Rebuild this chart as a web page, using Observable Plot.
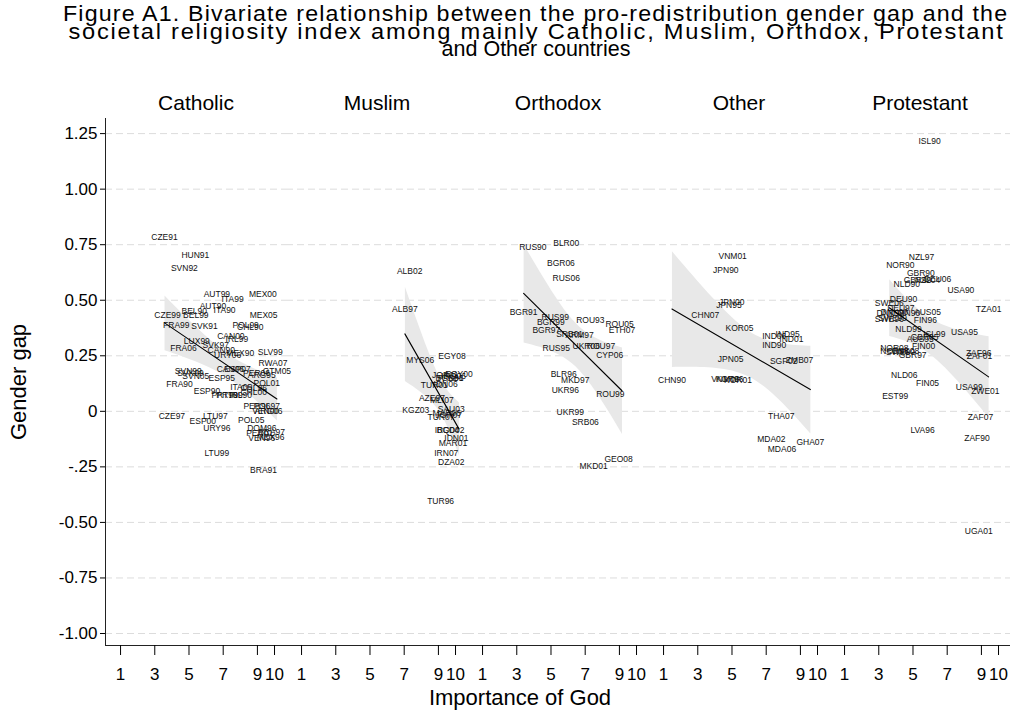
<!DOCTYPE html>
<html>
<head>
<meta charset="utf-8">
<script src="https://cdn.jsdelivr.net/npm/d3@7"></script>
<script src="https://cdn.jsdelivr.net/npm/@observablehq/plot@0.6"></script>
<style>
  body { margin: 0; background: white; font-family: "Liberation Sans", Arial, sans-serif; }
  #title { width: 1000px; margin-left: 36px; height: 54px; padding-top: 6px; text-align: center;
           font-size: 21.5px; line-height: 17.5px; white-space: nowrap; color: #000; }
  #title span { display: inline-block; transform-origin: 50% 50%; }
  #title .l1 { transform: scaleX(1.08); letter-spacing: 1.07px; }
  #title .l2 { transform: scaleX(1.1); letter-spacing: 1.6px; }
  #chart svg { display: block; }
</style>
</head>
<body>
<div id="title"><span class="l1">Figure A1. Bivariate relationship between the pro-redistribution gender gap and the</span><br><span class="l2">societal religiosity index among mainly Catholic, Muslim, Orthdox, Protestant</span><br><span class="l3">and Other countries</span></div>
<div id="chart"></div>
<script>
// ---- data: [country-wave label, importance of God (x), gender gap (y)] ----
const religions = ["Catholic", "Muslim", "Orthodox", "Other", "Protestant"];

const catholic = [
  ["CZE91",3.57,0.782],["HUN91",5.37,0.704],["SVN92",4.73,0.643],["AUT99",6.63,0.526],
  ["ITA99",7.55,0.506],["MEX00",9.32,0.529],["AUT90",6.40,0.472],["ITA90",7.08,0.457],
  ["BEL90",5.31,0.452],["BEL99",5.40,0.434],["CZE99",3.75,0.434],["MEX05",9.36,0.431],
  ["FRA99",4.26,0.389],["SVK91",5.91,0.382],["POL99",8.31,0.389],["CHL90",8.58,0.378],
  ["CAN00",7.45,0.338],["IRL99",7.80,0.326],["LUX99",5.46,0.314],["SVK97",6.57,0.297],
  ["FRA06",4.68,0.286],["CAN90",6.89,0.274],["URY06",7.26,0.254],["MEX90",8.00,0.261],
  ["SLV99",9.75,0.266],["RWA07",9.91,0.218],["SVN99",4.96,0.180],["SVK99",5.09,0.170],
  ["SVN05",5.40,0.157],["ESP95",6.92,0.151],["CAN06",7.42,0.188],["ESP07",7.84,0.188],
  ["GTM05",10.14,0.179],["PER06",8.95,0.171],["ARG95",9.25,0.161],["POL01",9.55,0.128],
  ["FRA90",4.45,0.124],["ITA05",8.05,0.108],["CHL96",8.78,0.103],["CHL00",8.78,0.086],
  ["ESP90",6.05,0.089],["PRT90",7.08,0.071],["PRT99",7.37,0.071],["IRL90",8.02,0.071],
  ["PER96",8.97,0.022],["POL97",9.54,0.022],["VEN00",9.48,0.000],["ARG06",9.65,0.000],
  ["CZE97",4.00,-0.023],["LTU97",6.54,-0.023],["ESP00",5.81,-0.045],["POL05",8.64,-0.038],
  ["URY96",6.63,-0.076],["DOM96",9.26,-0.076],["PER01",9.13,-0.099],["BRA97",9.83,-0.095],
  ["VEN96",9.25,-0.122],["MEX96",9.77,-0.118],["LTU99",6.63,-0.191],["BRA91",9.36,-0.266]
];

const muslim = [
  ["ALB02",7.32,0.629],["ALB97",7.04,0.459],["MYS06",7.94,0.229],["EGY08",9.79,0.247],
  ["JOR01",9.40,0.164],["BGD96",9.65,0.148],["PAK01",9.71,0.148],["IRQ06",9.89,0.157],
  ["EGY00",10.2,0.166],["TUR01",8.76,0.119],["IDN06",9.42,0.121],["AZE97",8.62,0.061],
  ["MLI07",9.20,0.049],["KGZ03",7.68,0.007],["SAU03",9.75,0.011],["MAR96",9.48,-0.010],
  ["TUR07",9.15,-0.027],["JOR07",9.60,-0.019],["IRQ04",9.50,-0.083],["BGD02",9.71,-0.083],
  ["IDN01",10.05,-0.121],["MAR01",9.85,-0.144],["IRN07",9.46,-0.189],["DZA02",9.75,-0.230],
  ["TUR96",9.13,-0.406]
];

const orthodox = [
  ["RUS90",3.94,0.739],["BLR00",5.89,0.758],["BGR06",5.58,0.667],["RUS06",5.89,0.601],
  ["BGR91",3.40,0.448],["RUS99",5.25,0.423],["BGR99",4.99,0.401],["ROU93",7.30,0.412],
  ["ROU05",9.01,0.394],["ETH07",9.15,0.367],["BGR97",4.73,0.367],["SRB01",6.09,0.349],
  ["ARM97",6.67,0.341],["RUS95",5.31,0.286],["UKR06",7.06,0.293],["ROU97",7.92,0.293],
  ["CYP06",8.43,0.251],["BLR96",5.74,0.169],["MKD97",6.42,0.139],["UKR96",5.84,0.097],
  ["ROU99",8.47,0.076],["UKR99",6.13,-0.004],["SRB06",7.01,-0.049],["GEO08",8.95,-0.214],
  ["MKD01",7.49,-0.248]
];

const other = [
  ["VNM01",5.04,0.697],["JPN90",4.64,0.637],["JPN00",4.99,0.491],["JPN95",4.82,0.476],
  ["CHN07",3.44,0.431],["KOR05",5.44,0.376],["IND06",7.47,0.337],["IND95",8.25,0.346],
  ["IND01",8.47,0.323],["IND90",7.47,0.296],["JPN05",4.92,0.233],["SGP02",8.02,0.224],
  ["ZMB07",8.95,0.229],["CHN90",1.49,0.139],["VNM06",4.61,0.146],["KOR96",4.86,0.143],
  ["KOR01",5.35,0.139],["THA07",7.88,-0.023],["MDA02",7.30,-0.128],["MDA06",7.92,-0.169],
  ["GHA07",9.58,-0.139]
];

const protestant = [
  ["ISL90",5.97,1.214],["NZL97",5.50,0.694],["NOR90",4.26,0.659],["GBR90",5.46,0.622],
  ["NLD90",4.64,0.574],["GBR99",5.27,0.592],["NZL04",5.85,0.589],["DEU06",6.44,0.593],
  ["USA90",7.80,0.544],["DEU90",4.45,0.506],["SWE06",3.61,0.488],["DEU97",4.29,0.466],
  ["DNK99",3.67,0.443],["DNK90",3.92,0.445],["FIN90",4.74,0.440],["AUS05",5.85,0.446],
  ["SWE96",3.61,0.416],["SWE99",3.81,0.418],["FIN96",5.72,0.409],["TZA01",9.42,0.461],
  ["NLD99",4.74,0.371],["ISL99",6.25,0.349],["USA95",8.01,0.356],["AUS95",5.43,0.323],
  ["GBR05",5.68,0.332],["FIN00",5.62,0.292],["NOR08",3.91,0.286],["NOR96",3.92,0.269],
  ["SWE90",4.27,0.266],["DNK08",4.57,0.269],["GBR97",4.98,0.251],["ZAF96",8.84,0.261],
  ["ZAF01",8.89,0.247],["NLD06",4.49,0.161],["FIN05",5.85,0.128],["USA99",8.29,0.108],
  ["ZWE01",9.23,0.090],["EST99",3.96,0.067],["ZAF07",8.94,-0.027],["LVA96",5.56,-0.083],
  ["ZAF90",8.74,-0.121],["UGA01",8.84,-0.541]
];

const xTicks = [1, 3, 5, 7, 9, 10];
const yTicks = [1.25, 1.00, 0.75, 0.50, 0.25, 0, -0.25, -0.50, -0.75, -1.00];
const yTickLabels = ["1.25", "1.00", "0.75", "0.50", "0.25", "0", "-.25", "-0.50", "-0.75", "-1.00"];

const yTitle = "Gender gap";
const xTitle = "Importance of God";

// ---- build table ----
const groups = {Catholic: catholic, Muslim: muslim, Orthodox: orthodox, Other: other, Protestant: protestant};
const rows = [];
for (const r of religions) for (const [label, x, y] of groups[r]) rows.push({religion: r, label, x, y});

const xDomain = [0.12, 10.7];
const yDomain = [-1.054, 1.318];
const yLabelMap = new Map(yTicks.map((t, i) => [t, yTickLabels[i]]));
const font = "'Liberation Sans', Arial, sans-serif";

const chart = Plot.plot({
  width: 1016,
  height: 652,
  marginTop: 58,
  marginBottom: 67,
  marginLeft: 105,
  marginRight: 6,
  style: {fontFamily: font, background: "white", color: "black", overflow: "visible"},
  x: {domain: xDomain},
  y: {domain: yDomain},
  fx: {domain: religions, padding: 0, axis: null},
  marks: [
    Plot.gridY(yTicks, {stroke: "#dcdcdc", strokeOpacity: 1, strokeDasharray: "7,4", strokeWidth: 1}),
    Plot.linearRegressionY(rows, {x: "x", y: "y", fx: "religion", ci: 0.95, fill: "#e8e8e8", fillOpacity: 1, stroke: "none"}),
    Plot.text(rows, {x: "x", y: "y", fx: "religion", text: "label", fontSize: 8.5, fill: "#111"}),
    Plot.linearRegressionY(rows, {x: "x", y: "y", fx: "religion", ci: 0, stroke: "black", strokeWidth: 1.1}),
    Plot.ruleY([yDomain[0]], {stroke: "#222", strokeWidth: 1}),
    Plot.ruleX([xDomain[0]], {fx: () => "Catholic", stroke: "#222", strokeWidth: 1}),
    Plot.axisY(yTicks, {tickFormat: d => yLabelMap.get(d), tickSize: 5, tickPadding: 3, fontSize: 17, label: null}),
    Plot.axisX(xTicks, {tickSize: 10, tickPadding: 12, fontSize: 17, label: null, tickFormat: d => String(d)}),
    Plot.text(religions, {fx: d => d, text: d => d, frameAnchor: "top", lineAnchor: "middle", dy: -15, fontSize: 21}),
    Plot.text([yTitle], {fx: () => "Catholic", frameAnchor: "left", textAnchor: "middle", lineAnchor: "middle", dx: -87, rotate: -90, fontSize: 22}),
    Plot.text([xTitle], {fx: () => "Orthodox", frameAnchor: "bottom", lineAnchor: "middle", dy: 52, dx: -38, fontSize: 22})
  ]
});
document.getElementById("chart").append(chart);
</script>
</body>
</html>
